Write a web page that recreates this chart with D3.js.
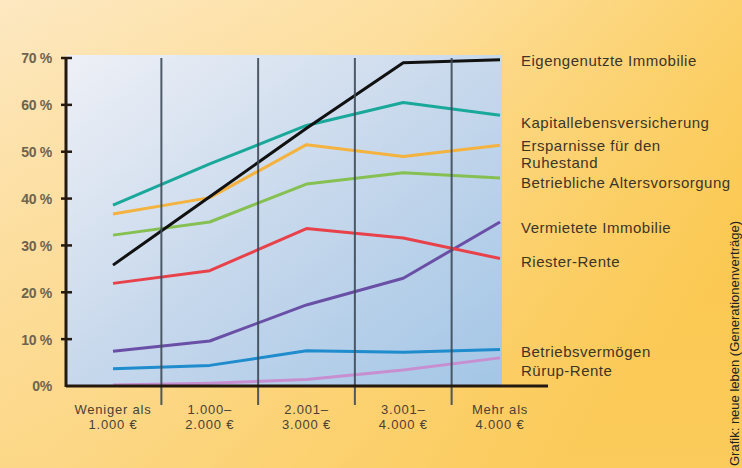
<!DOCTYPE html>
<html><head><meta charset="utf-8">
<script src="https://cdn.jsdelivr.net/npm/d3@7"></script>
<style>html,body{margin:0;padding:0;overflow:hidden}svg{display:block}</style>
</head><body>
<script>
const categories = [["Weniger als","1.000 €"],["1.000–","2.000 €"],["2.001–","3.000 €"],["3.001–","4.000 €"],["Mehr als","4.000 €"]];
const seriesNames = ["Eigengenutzte Immobilie","Kapitallebensversicherung","Ersparnisse für den Ruhestand","Betriebliche Altersvorsorgung","Vermietete Immobilie","Riester-Rente","Betriebsvermögen","Rürup-Rente"];
const eigengenutzt = [25.8, 40.4, 55.0, 69.0, 69.6];
const kapitalleben = [38.6, 47.4, 55.6, 60.5, 57.8];
const ersparnisse  = [36.7, 40.2, 51.5, 49.0, 51.4];
const betrieblich  = [32.2, 35.0, 43.1, 45.5, 44.4];
const vermietet    = [7.4, 9.6, 17.3, 23.0, 35.0];
const riester      = [21.9, 24.6, 33.6, 31.6, 27.2];
const betriebsverm = [3.7, 4.4, 7.5, 7.2, 7.8];
const ruerup       = [0.2, 0.6, 1.4, 3.4, 6.0];
const yTicks = [0,10,20,30,40,50,60,70];
const yTickLabels = ["0%","10 %","20 %","30 %","40 %","50 %","60 %","70 %"];
const colors = ["#111111","#1aa89b","#f4b23e","#86c052","#6a4fa6","#e8414a","#1e8ccd","#c88fd0"];
const seriesData = [eigengenutzt,kapitalleben,ersparnisse,betrieblich,vermietet,riester,betriebsverm,ruerup];
const labelLines = [["Eigengenutzte Immobilie"],["Kapitallebensversicherung"],["Ersparnisse für den","Ruhestand"],["Betriebliche Altersvorsorgung"],["Vermietete Immobilie"],["Riester-Rente"],["Betriebsvermögen"],["Rürup-Rente"]];
const labelY = [66, 128, 151, 188, 233, 267, 357, 376];
const drawOrder = [7,6,4,5,3,2,1,0];

const W=742,H=468;
const svg=d3.select("body").append("svg").attr("width",W).attr("height",H);
const defs=svg.append("defs");
const bg=defs.append("linearGradient").attr("id","bg").attr("x1","0").attr("y1","0").attr("x2","1").attr("y2","0.55");
bg.append("stop").attr("offset","0").attr("stop-color","#fde8c2");
bg.append("stop").attr("offset","0.45").attr("stop-color","#fddf9e");
bg.append("stop").attr("offset","1").attr("stop-color","#fbc646");
const bg2=defs.append("linearGradient").attr("id","bg2").attr("x1","0").attr("y1","0").attr("x2","0").attr("y2","1");
bg2.append("stop").attr("offset","0").attr("stop-color","#fbd070").attr("stop-opacity",0);
bg2.append("stop").attr("offset","1").attr("stop-color","#fbd070").attr("stop-opacity",0.5);
const pg=defs.append("linearGradient").attr("id","pg").attr("x1","0").attr("y1","0").attr("x2","1").attr("y2","1");
pg.append("stop").attr("offset","0").attr("stop-color","#eef0f6");
pg.append("stop").attr("offset","0.5").attr("stop-color","#c7d8ec");
pg.append("stop").attr("offset","1").attr("stop-color","#a3c6e6");

svg.append("rect").attr("width",W).attr("height",H).attr("fill","url(#bg)");
svg.append("rect").attr("width",W).attr("height",H).attr("fill","url(#bg2)");

const x=d3.scalePoint().domain(d3.range(categories.length)).range([113,500]);
const y=d3.scaleLinear().domain([0,70]).range([386,58]);

svg.append("rect").attr("x",66).attr("y",55).attr("width",502-66).attr("height",386-55).attr("fill","url(#pg)");

// lines
const line=d3.line().x((d,i)=>x(i)).y(d=>y(d));
const lg=svg.append("g");
drawOrder.forEach(k=>{
  lg.append("path").datum(seriesData[k]).attr("d",line).attr("fill","none")
    .attr("stroke",colors[k]).attr("stroke-width",3).attr("stroke-linejoin","round");
});

// separators
const seps=d3.range(categories.length-1).map(i=>(x(i)+x(i+1))/2);
svg.append("g").selectAll("line").data(seps).join("line")
  .attr("x1",d=>d).attr("x2",d=>d).attr("y1",58).attr("y2",405)
  .attr("stroke","#3d4a58").attr("stroke-width",2).attr("stroke-opacity",0.9);

// bottom axis line
svg.append("line").attr("x1",66).attr("x2",548).attr("y1",386).attr("y2",386).attr("stroke","#24190e").attr("stroke-width",3);

// left axis
const ya=d3.axisLeft(y).tickValues(yTicks).tickFormat((d,i)=>yTickLabels[i]).tickSize(0).tickPadding(14);
const yg=svg.append("g").attr("transform","translate(66,0)").call(ya);
yg.select(".domain").remove();
yg.selectAll("text").attr("font-family","Liberation Sans, Arial, sans-serif").attr("font-size",14).attr("font-weight","bold").attr("letter-spacing","-0.3").attr("fill","#6e6350").attr("dy","0.35em");
svg.append("line").attr("x1",66).attr("x2",66).attr("y1",57).attr("y2",387).attr("stroke","#24190e").attr("stroke-width",3);
svg.append("g").selectAll("line").data(yTicks.filter(v=>v>0)).join("line")
  .attr("x1",61).attr("x2",72).attr("y1",d=>y(d)).attr("y2",d=>y(d)).attr("stroke","#24190e").attr("stroke-width",2.5);

// category labels (one text element per category, two lines)
const cg=svg.append("g").attr("font-family","Liberation Sans, Arial, sans-serif").attr("font-size",13).attr("letter-spacing","0.8").attr("fill","#4a4236").attr("text-anchor","middle");
categories.forEach((c,i)=>{
  const t=cg.append("text").attr("x",x(i)).attr("y",414);
  c.forEach((s,j)=>{
    t.append("tspan").attr("x",x(i)).attr("dy",j===0?0:15).text(s);
  });
});

// series labels
const sg=svg.append("g").attr("font-family","Liberation Sans, Arial, sans-serif").attr("font-size",15).attr("letter-spacing","0.5").attr("fill","#3d3526");
labelLines.forEach((ls,k)=>{
  const t=sg.append("text").attr("x",521).attr("y",labelY[k]);
  ls.forEach((s,j)=>{
    t.append("tspan").attr("x",521).attr("dy",j===0?0:17).text(s);
  });
});

// credit (rotated), kept inside the picture
svg.append("text").attr("transform","translate(739,466) rotate(-90)")
  .attr("font-family","Liberation Sans, Arial, sans-serif").attr("font-size",13).attr("fill","#222")
  .text("Grafik: neue leben (Generationenverträge)");
</script>
</body></html>
